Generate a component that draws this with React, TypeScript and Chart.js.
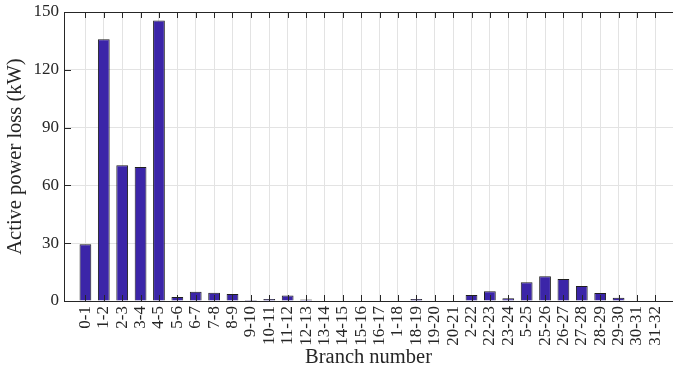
import { useEffect, useRef } from "react";
import { Chart, registerables } from "chart.js";
Chart.register(...registerables);

const branches = [
  "0-1", "1-2", "2-3", "3-4", "4-5", "5-6", "6-7", "7-8", "8-9", "9-10",
  "10-11", "11-12", "12-13", "13-14", "14-15", "15-16", "16-17", "1-18", "18-19", "19-20",
  "20-21", "2-22", "22-23", "23-24", "5-25", "25-26", "26-27", "27-28", "28-29", "29-30",
  "30-31", "31-32",
];
const lossKW = [
  29.4, 135.8, 70.4, 69.6, 145.6, 2.1, 4.8, 4.3, 3.6, 0.5,
  1.0, 2.8, 0.8, 0.3, 0.3, 0.2, 0.2, 0.3, 1.0, 0.3,
  0.2, 3.1, 5.0, 1.4, 9.7, 12.8, 11.4, 7.8, 4.1, 1.7,
  0.3, 0.2,
];
const yTicks = [0, 30, 60, 90, 120, 150];

const FONT = "'Liberation Serif', 'Times New Roman', serif";
const AXIS = "#262626";

const innerTicks = {
  id: "innerTicks",
  afterDraw(chart: any) {
    const { ctx, chartArea } = chart;
    const xs = chart.scales.x;
    const ys = chart.scales.y;
    const top = Math.round(chartArea.top);
    const bottom = Math.round(ys.getPixelForValue(0));
    const left = Math.round(chartArea.left);
    ctx.save();
    ctx.fillStyle = AXIS;
    ctx.fillRect(left, top, Math.round(chartArea.right) - left, 1);
    xs.ticks.forEach((t: any) => {
      const px = Math.round(xs.getPixelForValue(t.value));
      ctx.fillRect(px, bottom - 6, 1, 7);
      ctx.fillRect(px, top, 1, 6);
    });
    ys.ticks.forEach((t: any) => {
      const py = Math.round(ys.getPixelForValue(t.value));
      ctx.fillRect(left, py, 7, 1);
    });
    ctx.restore();
  },
};

export default function App() {
  const ref = useRef<HTMLCanvasElement | null>(null);
  useEffect(() => {
    document.body.style.margin = "0";
    const chart = new Chart(ref.current as HTMLCanvasElement, {
      type: "bar",
      data: {
        datasets: [
          {
            data: lossKW.map((v, i) => ({ x: i, y: v })),
            backgroundColor: "#3b25a8",
            borderColor: "#1e1e1e",
            borderWidth: 1,
            barPercentage: 0.64,
            categoryPercentage: 1,
          },
        ],
      },
      options: {
        animation: false,
        responsive: false,
        layout: { padding: { top: 12, left: 0, right: 0, bottom: 0 } },
        plugins: { legend: { display: false }, tooltip: { enabled: false } },
        scales: {
          x: {
            type: "linear",
            offset: false,
            min: -1.165,
            max: 31.96,
            afterBuildTicks: (scale: any) => {
              scale.ticks = branches.map((_, i) => ({ value: i }));
            },
            afterFit: (scale: any) => {
              scale.height = 69;
              scale.paddingLeft = 0;
              scale.paddingRight = 0;
            },
            grid: { color: "#e3e3e3", drawTicks: false, offset: false },
            border: { color: AXIS, width: 1 },
            ticks: {
              autoSkip: false,
              maxRotation: 90,
              minRotation: 90,
              padding: 5,
              color: AXIS,
              font: { family: FONT, size: 17 },
              callback: (_v: any, i: number) => branches[i],
            },
            title: {
              display: true,
              text: "Branch number",
              color: AXIS,
              font: { family: FONT, size: 20.5 },
              padding: { top: 0, bottom: 0 },
            },
          },
          y: {
            min: 0,
            max: 150,
            afterBuildTicks: (scale: any) => {
              scale.ticks = yTicks.map((v) => ({ value: v }));
            },
            afterFit: (scale: any) => {
              scale.width = 64;
              scale.paddingTop = 0;
              scale.paddingBottom = 0;
            },
            grid: { color: "#e3e3e3", drawTicks: false },
            border: { color: AXIS, width: 1 },
            ticks: {
              padding: 5,
              color: AXIS,
              font: { family: FONT, size: 17 },
            },
            title: {
              display: true,
              text: "Active power loss (kW)",
              color: AXIS,
              font: { family: FONT, size: 20.5 },
              padding: { top: 3, bottom: 0 },
            },
          },
        },
      },
      plugins: [innerTicks],
    } as any);
    return () => chart.destroy();
  }, []);
  return (
    <div style={{ width: 673, height: 370, background: "#fff" }}>
      <canvas ref={ref} width={673} height={370} />
    </div>
  );
}
